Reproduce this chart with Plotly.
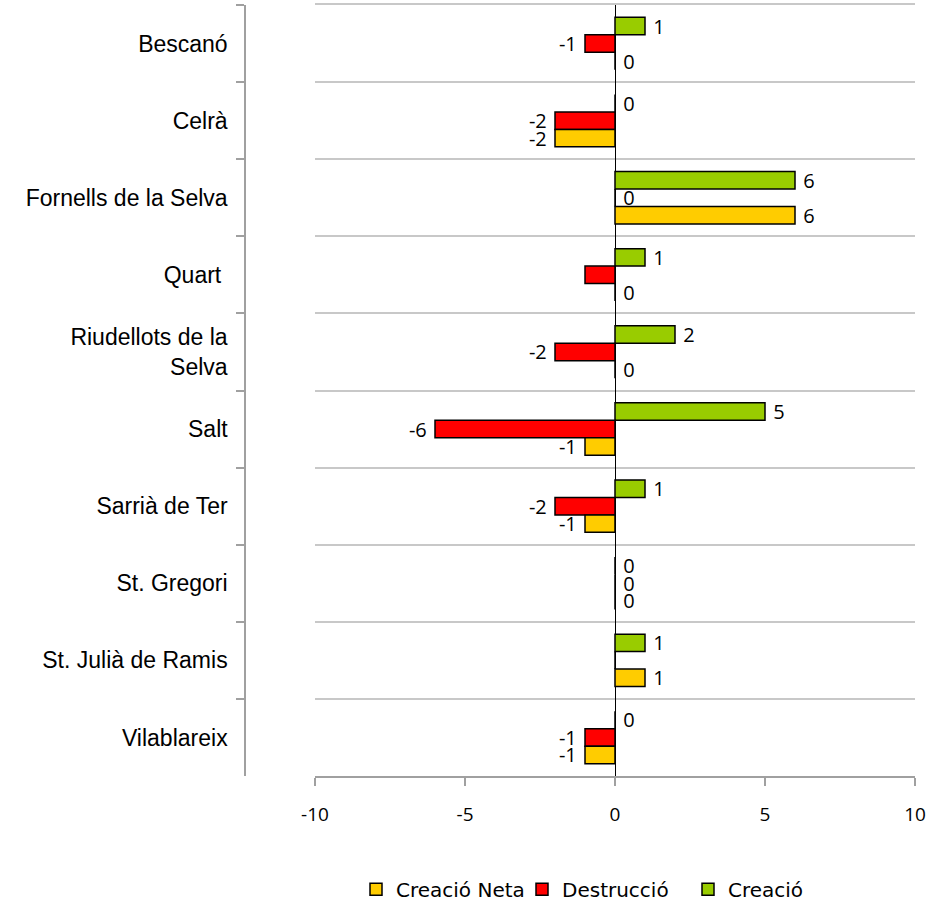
import plotly.graph_objects as go

categories = ["Bescanó", "Celrà", "Fornells de la Selva", "Quart\u00a0",
              "Riudellots de la<br>Selva", "Salt", "Sarrià de Ter",
              "St. Gregori", "St. Julià de Ramis", "Vilablareix"]
creacio = [1, 0, 6, 1, 2, 5, 1, 0, 1, 0]
destruccio = [-1, -2, 0, -1, -2, -6, -2, 0, 0, -1]
creacio_neta = [0, -2, 6, 0, 0, -1, -1, 0, 1, -1]

# labels as shown in the chart (some are hidden in the original)
creacio_labels = ["1", "0", "6", "1", "2", "5", "1", "0", "1", "0"]
destruccio_labels = ["-1", "-2", "0", "", "-2", "-6", "-2", "0", "", "-1"]
creacio_neta_labels = ["0", "-2", "6", "0", "0", "-1", "-1", "0", "1", "-1"]

x_tick_vals = [-10, -5, 0, 5, 10]
x_tick_text = ["-10", "-5", "0", "5", "10"]

W, H = 948, 902
x_left, x_right = 315, 915
y_top, y_bot = 5, 776
yaxis_x = 245

label_font = dict(family="Open Sans, Liberation Sans, sans-serif", size=20, color="black")
NB = "\u00a0"


def padded(labels, vals):
    # add a non-breaking space on the outer side so labels sit a little off the bar end
    out = []
    for lab, v in zip(labels, vals):
        if lab == "":
            out.append("")
        elif v < 0:
            out.append(lab + NB)
        else:
            out.append(NB + lab)
    return out


fig = go.Figure()
series = [
    ("Creació", creacio, creacio_labels, "#99CC00"),
    ("Destrucció", destruccio, destruccio_labels, "#FF0000"),
    ("Creació Neta", creacio_neta, creacio_neta_labels, "#FFCC00"),
]
for name, vals, labels, color in series:
    fig.add_trace(go.Bar(
        name=name, y=categories, x=vals, orientation="h",
        marker=dict(color=color, line=dict(color="black", width=1.5)),
        text=padded(labels, vals), textposition="outside", textfont=label_font,
        outsidetextfont=label_font, constraintext="none",
        cliponaxis=False,
    ))

# invisible overlay axis to draw the top border line like a gridline
fig.add_trace(go.Scatter(x=[None], y=[None], xaxis="x2", showlegend=False, hoverinfo="skip"))

fig.update_layout(
    width=W, height=H,
    paper_bgcolor="white", plot_bgcolor="white",
    barmode="group", bargap=0.32, bargroupgap=0,
    margin=dict(l=0, r=0, t=y_top, b=H - y_bot, autoexpand=False),
    font=dict(family="Liberation Sans, Arial, sans-serif", color="black"),
    xaxis=dict(
        domain=[x_left / W, x_right / W], automargin=False,
        range=[-10, 10], tickmode="array", tickvals=x_tick_vals, ticktext=x_tick_text,
        showgrid=False, zeroline=True, zerolinecolor="black", zerolinewidth=1.2,
        showline=True, linecolor="#A0A0A0", linewidth=1.5,
        ticks="outside", ticklen=8, tickcolor="#A0A0A0", tickwidth=1.5,
        tickfont=dict(family="Open Sans, Liberation Sans, sans-serif", size=19, color="black"),
        ticklabelstandoff=12,
    ),
    xaxis2=dict(
        overlaying="x", side="top", range=[-10, 10],
        showline=True, linecolor="#C8C8C8", linewidth=1.5,
        showticklabels=False, ticks="", showgrid=False, zeroline=False,
        automargin=False,
    ),
    yaxis=dict(
        autorange="reversed", type="category", automargin=False,
        anchor="free", position=yaxis_x / W,
        showline=True, linecolor="#A0A0A0", linewidth=1.5,
        ticks="outside", ticklen=8, tickcolor="#A0A0A0", tickwidth=1.5,
        tickson="boundaries",
        showgrid=True, gridcolor="#C8C8C8", gridwidth=1.5,
        tickfont=dict(family="Liberation Sans, Arial, sans-serif", size=23, color="black"),
        ticklabelstandoff=12,
    ),
    legend=dict(
        orientation="h", x=(373 - 17) / W, xanchor="left",
        y=-0.147, yanchor="middle", traceorder="reversed",
        font=dict(family="DejaVu Sans, sans-serif", size=20, color="black"),
        itemwidth=30, entrywidth=121, entrywidthmode="pixels",
    ),
)

fig.write_html(
    "out.html",
    config={"displayModeBar": False},
    post_script="document.body.style.margin='0';document.body.style.overflow='hidden';",
)
